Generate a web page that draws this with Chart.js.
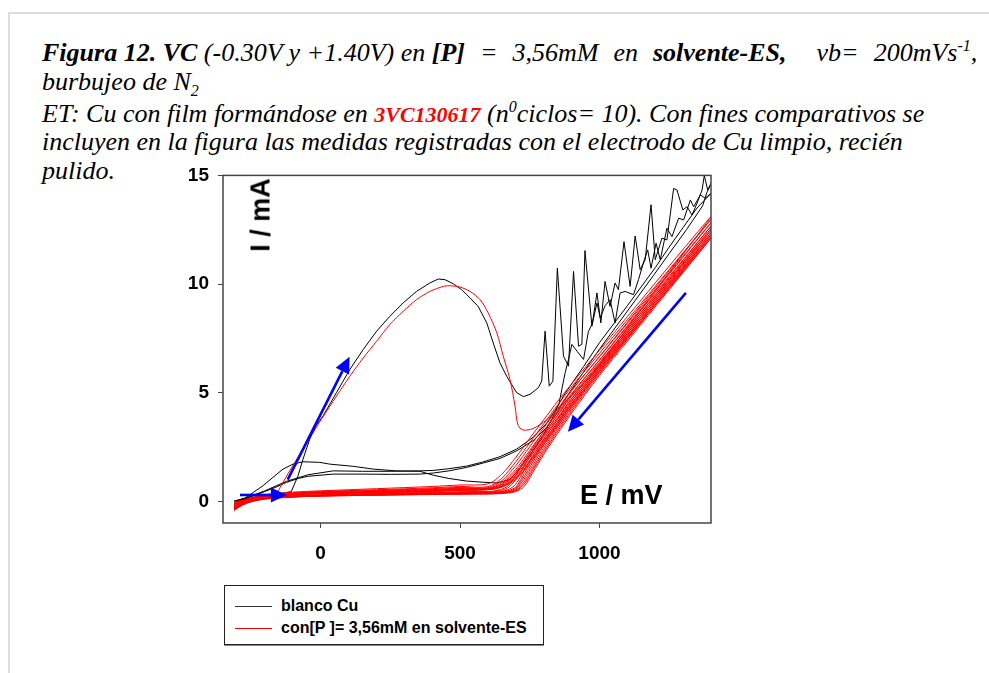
<!DOCTYPE html>
<html>
<head>
<meta charset="utf-8">
<script src="https://cdn.jsdelivr.net/npm/chart.js@4.4.0/dist/chart.umd.min.js"></script>
<style>
  body { margin: 0; width: 989px; height: 673px; overflow: hidden; position: relative; background: #fff; }
  #page { position: absolute; left: 8px; top: 12px; right: -4px; bottom: -4px; border-top: 2px solid #dcdcdc; border-left: 2px solid #dcdcdc; }
  .ln { position: absolute; left: 42px; white-space: nowrap; font-family: "Liberation Serif", serif; font-style: italic; font-size: 26px; line-height: 1; color: #000; }
  .ln sup, .ln sub { font-size: 16px; line-height: 0; }
  .wide { word-spacing: 8.5px; }
  .code { color: #ff0000; font-weight: bold; font-size: 22px; }
  #c { position: absolute; left: 140px; top: 155px; }
  .axt { position: absolute; font-family: "Liberation Sans", Arial, sans-serif; font-weight: bold; font-size: 27px; line-height: 1; white-space: nowrap; color: #000; }
  #legend { position: absolute; left: 224px; top: 585px; width: 318px; height: 58px; border: 1px solid #222; box-shadow: 0 1px 0 #888; }
  #legend .row { position: absolute; left: 0; height: 20px; font-family: "Liberation Sans", Arial, sans-serif; font-weight: bold; font-size: 16px; line-height: 20px; white-space: nowrap; }
  #legend .sw { position: absolute; left: 10px; top: 10px; width: 37px; height: 1px; }
  #legend .tx { position: absolute; left: 56px; top: 0; }
</style>
</head>
<body>
<div id="page"></div>

<div class="ln" style="top:40px"><b>Figura 12. VC</b> (-0.30V y +1.40V) en <b>[P]</b><span class="wide"> = 3,56mM en <b>solvente-ES,</b>&nbsp; vb= 200mVs</span><sup>-1</sup>,</div>
<div class="ln" style="top:69px">burbujeo de N<sub>2</sub></div>
<div class="ln" style="top:101px">ET: Cu con film formándose en <span class="code">3VC130617</span> (n<sup>0</sup>ciclos= 10). Con fines comparativos se</div>
<div class="ln" style="top:129px">incluyen en la figura las medidas registradas con el electrodo de Cu limpio, recién</div>
<div class="ln" style="top:158px">pulido.</div>

<canvas id="c" width="580" height="410"></canvas>

<div class="axt" style="left:261px;top:215px;transform:translate(-50%,-50%) rotate(-90deg)">I / mA</div>
<div class="axt" style="left:580px;top:482px">E / mV</div>

<div id="legend">
  <div class="row" style="top:10px"><span class="sw" style="background:#333"></span><span class="tx">blanco Cu</span></div>
  <div class="row" style="top:32px"><span class="sw" style="background:#ff0000"></span><span class="tx">con[P ]= 3,56mM en solvente-ES</span></div>
</div>

<script>
// ejes
const xTicks = [0, 500, 1000];
const yTicks = [0, 5, 10, 15];

// flechas azules (E0, I0, E1, I1) en unidades de datos
const arrows = [
  [-289, 0.29, -121, 0.29],
  [-118, 1.0, 104, 6.65],
  [1310, 9.59, 887, 3.2]
];

// blanco Cu, ciclo 1 (con pico) y ciclo 2
const black1E = [-310, -272, -230, -180, -130, -105, -81, -63, -39, -15, 9, 57, 105, 153, 201, 248, 296, 344, 392, 422, 446, 476, 506, 536, 565, 596, 619, 643, 667, 703, 727, 751, 781, 793, 805, 820, 833, 849, 871, 889, 907, 925, 937, 948, 973, 991, 1005, 1020, 1038, 1056, 1068, 1088, 1110, 1128, 1146, 1164, 1185, 1200, 1224, 1242, 1266, 1278, 1299, 1314, 1332, 1350, 1368, 1376, 1388, 1400,
  1385, 1370, 1312, 1250, 1194, 1100, 1000, 943, 900, 871, 847, 811, 763, 703, 643, 580, 524, 460, 404, 356, 250, 150, 45, -45, -80, -122, -160, -200, -240, -272, -310];
const black1I = [-0.05, 0.1, 0.2, 0.3, 0.38, 0.45, 1.17, 1.94, 2.86, 3.5, 3.93, 5.0, 6.07, 6.99, 7.83, 8.51, 9.13, 9.66, 10.05, 10.23, 10.2, 10.01, 9.74, 9.36, 8.97, 8.21, 7.29, 6.38, 5.76, 5.0, 4.82, 4.92, 5.23, 5.53, 7.83, 5.3, 5.53, 10.73, 6.68, 6.22, 10.58, 7.14, 7.22, 11.54, 8.06, 9.59, 8.21, 10.12, 8.97, 10.05, 9.74, 11.95, 9.89, 12.21, 10.66, 11.12, 13.65, 11.12, 12.11, 12.03, 14.4, 14.33, 13.41, 13.56, 13.18, 13.72, 14.33, 15.0, 14.33, 14.63,
  14.2, 13.6, 12.5, 11.4, 10.4, 8.75, 7.0, 5.95, 5.15, 4.6, 4.05, 3.4, 2.8, 2.32, 1.97, 1.75, 1.56, 1.4, 1.3, 1.25, 1.24, 1.25, 1.25, 1.15, 1.05, 0.87, 0.65, 0.45, 0.25, 0.12, 0.0];

const black2E = [-310, -272, -240, -206, -171, -135, -99, -63, -3, 33, 117, 189, 272, 356, 404, 460, 524, 580, 632, 680, 720, 760, 800, 830, 855, 877, 889, 901, 920, 943, 960, 975, 991, 1003, 1020, 1038, 1056, 1074, 1092, 1122, 1140, 1161, 1173, 1185, 1203, 1218, 1242, 1260, 1284, 1302, 1326, 1338, 1362, 1379, 1400,
  1350, 1300, 1250, 1200, 1100, 1000, 943, 900, 871, 847, 811, 763, 703, 643, 580, 524, 460, 404, 356, 250, 150, 45, -45, -122, -200, -272, -310];
const black2I = [0.0, 0.14, 0.42, 0.72, 1.1, 1.48, 1.71, 1.82, 1.79, 1.71, 1.61, 1.48, 1.4, 1.38, 1.2, 1.05, 0.93, 0.88, 0.84, 1.0, 1.6, 2.3, 3.1, 3.8, 4.5, 5.92, 6.53, 7.22, 6.9, 6.53, 7.8, 8.2, 9.13, 8.44, 9.0, 9.28, 8.21, 9.59, 9.66, 9.51, 10.2, 11.12, 11.57, 10.73, 11.88, 11.12, 12.57, 12.18, 13.03, 12.95, 13.87, 13.56, 14.1, 13.95, 14.17,
  13.5, 12.6, 11.7, 10.75, 9.0, 7.3, 6.2, 5.4, 4.85, 4.3, 3.6, 2.95, 2.4, 2.05, 1.8, 1.62, 1.5, 1.42, 1.4, 1.38, 1.38, 1.4, 1.22, 0.92, 0.48, 0.14, 0.0];

// con [P], ciclo 1 (con pico)
const red1E = [-310, -280, -250, -220, -190, -160, -140, -116, -68, -44, 3, 57, 105, 153, 201, 248, 296, 344, 392, 440, 464, 500, 536, 572, 601, 632, 655, 679, 697, 708, 726, 762, 810, 834, 882, 930, 977, 1100, 1200, 1300, 1400,
  1300, 1200, 1100, 1000, 900, 850, 800, 750, 700, 650, 600, 500, 400, 200, 0, -100, -200, -260, -310];
const red1I = [-0.02, 0.04, 0.1, 0.16, 0.24, 0.36, 0.75, 1.29, 2.3, 2.8, 3.78, 4.84, 5.76, 6.6, 7.37, 8.13, 8.74, 9.28, 9.66, 9.89, 9.92, 9.86, 9.66, 9.28, 8.67, 7.75, 6.68, 5.61, 4.4, 3.5, 3.28, 3.35, 3.74, 4.05, 4.66, 5.27, 5.89, 7.98, 9.68, 11.38, 13.1,
  11.6, 10.05, 8.5, 6.95, 5.4, 4.6, 3.75, 2.9, 2.02, 1.25, 0.8, 0.75, 0.68, 0.58, 0.48, 0.42, 0.3, 0.12, -0.1];

// ciclos 2-10: ida y vuelta sobre la misma rejilla de potencial
const redE = [-310, -280, -250, -200, -100, 0, 200, 400, 550, 620, 670, 700, 730, 760, 800, 850, 900, 1000, 1100, 1200, 1300, 1400,
  1300, 1200, 1100, 1000, 900, 850, 800, 750, 700, 650, 600, 500, 400, 200, 0, -100, -200, -260, -310];
const red2 = [-0.1, 0.0, 0.07, 0.16, 0.25, 0.3, 0.36, 0.41, 0.45, 0.47, 0.68, 1.2, 1.84, 2.45, 3.22, 4.16, 5.08, 6.66, 8.24, 9.82, 11.4, 12.98,
  11.44, 9.89, 8.35, 6.81, 5.26, 4.43, 3.56, 2.69, 1.82, 1.06, 0.67, 0.68, 0.62, 0.53, 0.45, 0.39, 0.27, 0.1, -0.15];
const red3 = [-0.15, -0.03, 0.05, 0.15, 0.24, 0.29, 0.34, 0.39, 0.43, 0.44, 0.6, 1.0, 1.63, 2.25, 3.03, 3.97, 4.91, 6.5, 8.08, 9.66, 11.24, 12.82,
  11.28, 9.73, 8.19, 6.65, 5.11, 4.25, 3.38, 2.51, 1.64, 0.95, 0.63, 0.64, 0.58, 0.5, 0.43, 0.37, 0.26, 0.08, -0.2];
const red4 = [-0.2, -0.06, 0.03, 0.14, 0.23, 0.28, 0.33, 0.37, 0.41, 0.42, 0.52, 0.79, 1.42, 2.05, 2.84, 3.78, 4.72, 6.34, 7.92, 9.5, 11.08, 12.66,
  11.12, 9.58, 8.04, 6.49, 4.95, 4.08, 3.21, 2.34, 1.47, 0.86, 0.6, 0.6, 0.55, 0.48, 0.41, 0.35, 0.25, 0.07, -0.24];
const red5 = [-0.24, -0.08, 0.02, 0.13, 0.22, 0.27, 0.32, 0.36, 0.39, 0.4, 0.48, 0.66, 1.27, 1.91, 2.71, 3.65, 4.59, 6.23, 7.81, 9.39, 10.97, 12.55,
  11.01, 9.47, 7.93, 6.39, 4.83, 3.96, 3.09, 2.22, 1.37, 0.8, 0.58, 0.58, 0.53, 0.46, 0.39, 0.34, 0.24, 0.06, -0.28];
const red6 = [-0.28, -0.1, 0.01, 0.12, 0.21, 0.26, 0.31, 0.35, 0.37, 0.38, 0.45, 0.6, 1.14, 1.78, 2.59, 3.54, 4.48, 6.14, 7.72, 9.3, 10.88, 12.46,
  10.92, 9.38, 7.84, 6.29, 4.72, 3.85, 2.98, 2.11, 1.28, 0.76, 0.57, 0.56, 0.51, 0.44, 0.38, 0.33, 0.23, 0.05, -0.31];
const red7 = [-0.31, -0.12, 0.0, 0.12, 0.21, 0.25, 0.3, 0.34, 0.36, 0.37, 0.43, 0.55, 1.02, 1.65, 2.47, 3.42, 4.36, 6.04, 7.62, 9.2, 10.78, 12.36,
  10.82, 9.28, 7.74, 6.2, 4.62, 3.75, 2.88, 2.01, 1.2, 0.72, 0.56, 0.54, 0.49, 0.43, 0.37, 0.32, 0.22, 0.04, -0.34];
const red8 = [-0.34, -0.14, -0.01, 0.11, 0.2, 0.25, 0.29, 0.33, 0.35, 0.36, 0.41, 0.5, 0.89, 1.52, 2.35, 3.31, 4.25, 5.95, 7.53, 9.11, 10.69, 12.27,
  10.73, 9.19, 7.65, 6.11, 4.51, 3.64, 2.77, 1.9, 1.12, 0.69, 0.55, 0.52, 0.47, 0.41, 0.36, 0.31, 0.21, 0.03, -0.37];
const red9 = [-0.37, -0.16, -0.02, 0.11, 0.2, 0.24, 0.28, 0.32, 0.34, 0.35, 0.4, 0.48, 0.79, 1.42, 2.25, 3.22, 4.16, 5.87, 7.45, 9.03, 10.61, 12.19,
  10.65, 9.11, 7.57, 6.03, 4.43, 3.56, 2.69, 1.82, 1.06, 0.67, 0.54, 0.51, 0.46, 0.4, 0.35, 0.3, 0.2, 0.02, -0.4];
const red10 = [-0.4, -0.18, -0.03, 0.1, 0.19, 0.24, 0.28, 0.31, 0.33, 0.34, 0.38, 0.45, 0.68, 1.31, 2.15, 3.12, 4.06, 5.79, 7.37, 8.95, 10.53, 12.11,
  10.57, 9.03, 7.5, 5.95, 4.34, 3.47, 2.6, 1.73, 1.0, 0.65, 0.53, 0.5, 0.45, 0.39, 0.34, 0.29, 0.19, 0.01, -0.42];

const pts = (E, I) => E.map((e, k) => ({ x: e, y: I[k] }));

const redLine = (data) => ({
  label: "con[P ]= 3,56mM en solvente-ES",
  data: data,
  borderColor: "#ff0000",
  borderWidth: 1,
  pointRadius: 0,
  showLine: true,
  tension: 0.3,
  fill: false
});
const blackLine = (data) => ({
  label: "blanco Cu",
  data: data,
  borderColor: "#000000",
  borderWidth: 1,
  pointRadius: 0,
  showLine: true,
  tension: 0,
  fill: false
});

const datasets = [redLine(pts(red1E, red1I))]
  .concat([red2, red3, red4, red5, red6, red7, red8, red9, red10].map(r => redLine(pts(redE, r))))
  .concat([blackLine(pts(black1E, black1I)), blackLine(pts(black2E, black2I))]);

// marco del gráfico y flechas azules
const decor = {
  id: "decor",
  afterDatasetsDraw(chart) {
    const { ctx, chartArea: a, scales: { x, y } } = chart;
    ctx.save();
    ctx.strokeStyle = "#444";
    ctx.lineWidth = 1.5;
    ctx.strokeRect(a.left, a.top, a.right - a.left, a.bottom - a.top);

    ctx.strokeStyle = "#0000ff";
    ctx.fillStyle = "#0000ff";
    ctx.lineWidth = 2.6;
    arrows.forEach(([e0, i0, e1, i1]) => {
      const x0 = x.getPixelForValue(e0), y0 = y.getPixelForValue(i0);
      const x1 = x.getPixelForValue(e1), y1 = y.getPixelForValue(i1);
      const ang = Math.atan2(y1 - y0, x1 - x0);
      const L = 16, W = 7.5;
      const bx = x1 - L * Math.cos(ang), by = y1 - L * Math.sin(ang);
      ctx.beginPath();
      ctx.moveTo(x0, y0);
      ctx.lineTo(bx, by);
      ctx.stroke();
      ctx.beginPath();
      ctx.moveTo(x1, y1);
      ctx.lineTo(bx + W * Math.sin(ang), by - W * Math.cos(ang));
      ctx.lineTo(bx - W * Math.sin(ang), by + W * Math.cos(ang));
      ctx.closePath();
      ctx.fill();
    });
    ctx.restore();
  }
};

const tickFont = { family: "Liberation Sans", size: 19, weight: "bold" };

new Chart(document.getElementById("c"), {
  type: "scatter",
  data: { datasets: datasets },
  options: {
    responsive: false,
    devicePixelRatio: 1,
    animation: false,
    layout: { padding: { top: 0, right: 9, left: 0, bottom: 0 } },
    plugins: { legend: { display: false }, tooltip: { enabled: false } },
    scales: {
      x: {
        type: "linear",
        min: -350,
        max: 1400,
        afterBuildTicks: s => { s.ticks = xTicks.map(v => ({ value: v })); },
        afterFit: s => { s.height = 42; },
        ticks: { font: tickFont, color: "#000", padding: 14, maxRotation: 0, callback: v => String(v) },
        grid: { display: true, drawOnChartArea: false, drawTicks: true, tickLength: 5, color: "#444", lineWidth: 1 },
        border: { display: false }
      },
      y: {
        type: "linear",
        min: -1,
        max: 15,
        afterBuildTicks: s => { s.ticks = yTicks.map(v => ({ value: v })); },
        afterFit: s => { s.width = 83; },
        ticks: { font: tickFont, color: "#000", padding: 9, callback: v => String(v) },
        grid: { display: true, drawOnChartArea: false, drawTicks: true, tickLength: 5, color: "#444", lineWidth: 1 },
        border: { display: false }
      }
    }
  },
  plugins: [decor]
});
</script>
</body>
</html>
